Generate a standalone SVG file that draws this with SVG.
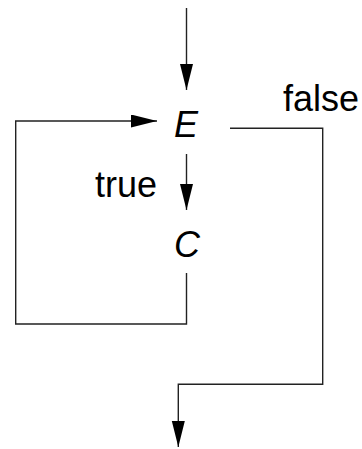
<svg xmlns="http://www.w3.org/2000/svg" width="362" height="449" viewBox="0 0 362 449">
  <style>
    .wire { fill: none; stroke: #222; stroke-width: 1.4; }
    .lbl { font-family: "Liberation Sans", Arial, sans-serif; font-size: 36px; fill: #000; }
    .var { font-style: italic; }
  </style>
  <defs>
    <marker id="head" markerUnits="userSpaceOnUse" markerWidth="27" markerHeight="14" refX="26" refY="6.5" orient="auto">
      <path d="M0,0 L26,6.5 L0,13 Z" fill="#000"/>
    </marker>
  </defs>

  <g id="connectors">
    <!-- entry into the test -->
    <path class="wire" d="M186.5,8 V90" marker-end="url(#head)"/>
    <!-- true branch: E to C -->
    <path class="wire" d="M186.5,154 V210" marker-end="url(#head)"/>
    <!-- loop back from C to E -->
    <path class="wire" d="M186.5,273 V324 H15.7 V121 H157" marker-end="url(#head)"/>
    <!-- false branch: exit -->
    <path class="wire" d="M230,128.3 H322.7 V384.3 H178.3 V447" marker-end="url(#head)"/>
  </g>

  <g id="node-E">
    <text class="lbl var" x="174" y="137">E</text>
  </g>
  <g id="node-C">
    <text class="lbl var" x="174" y="257">C</text>
  </g>
  <g id="label-true">
    <text class="lbl" x="95" y="197">true</text>
  </g>
  <g id="label-false">
    <text class="lbl" x="283" y="111">false</text>
  </g>
</svg>
